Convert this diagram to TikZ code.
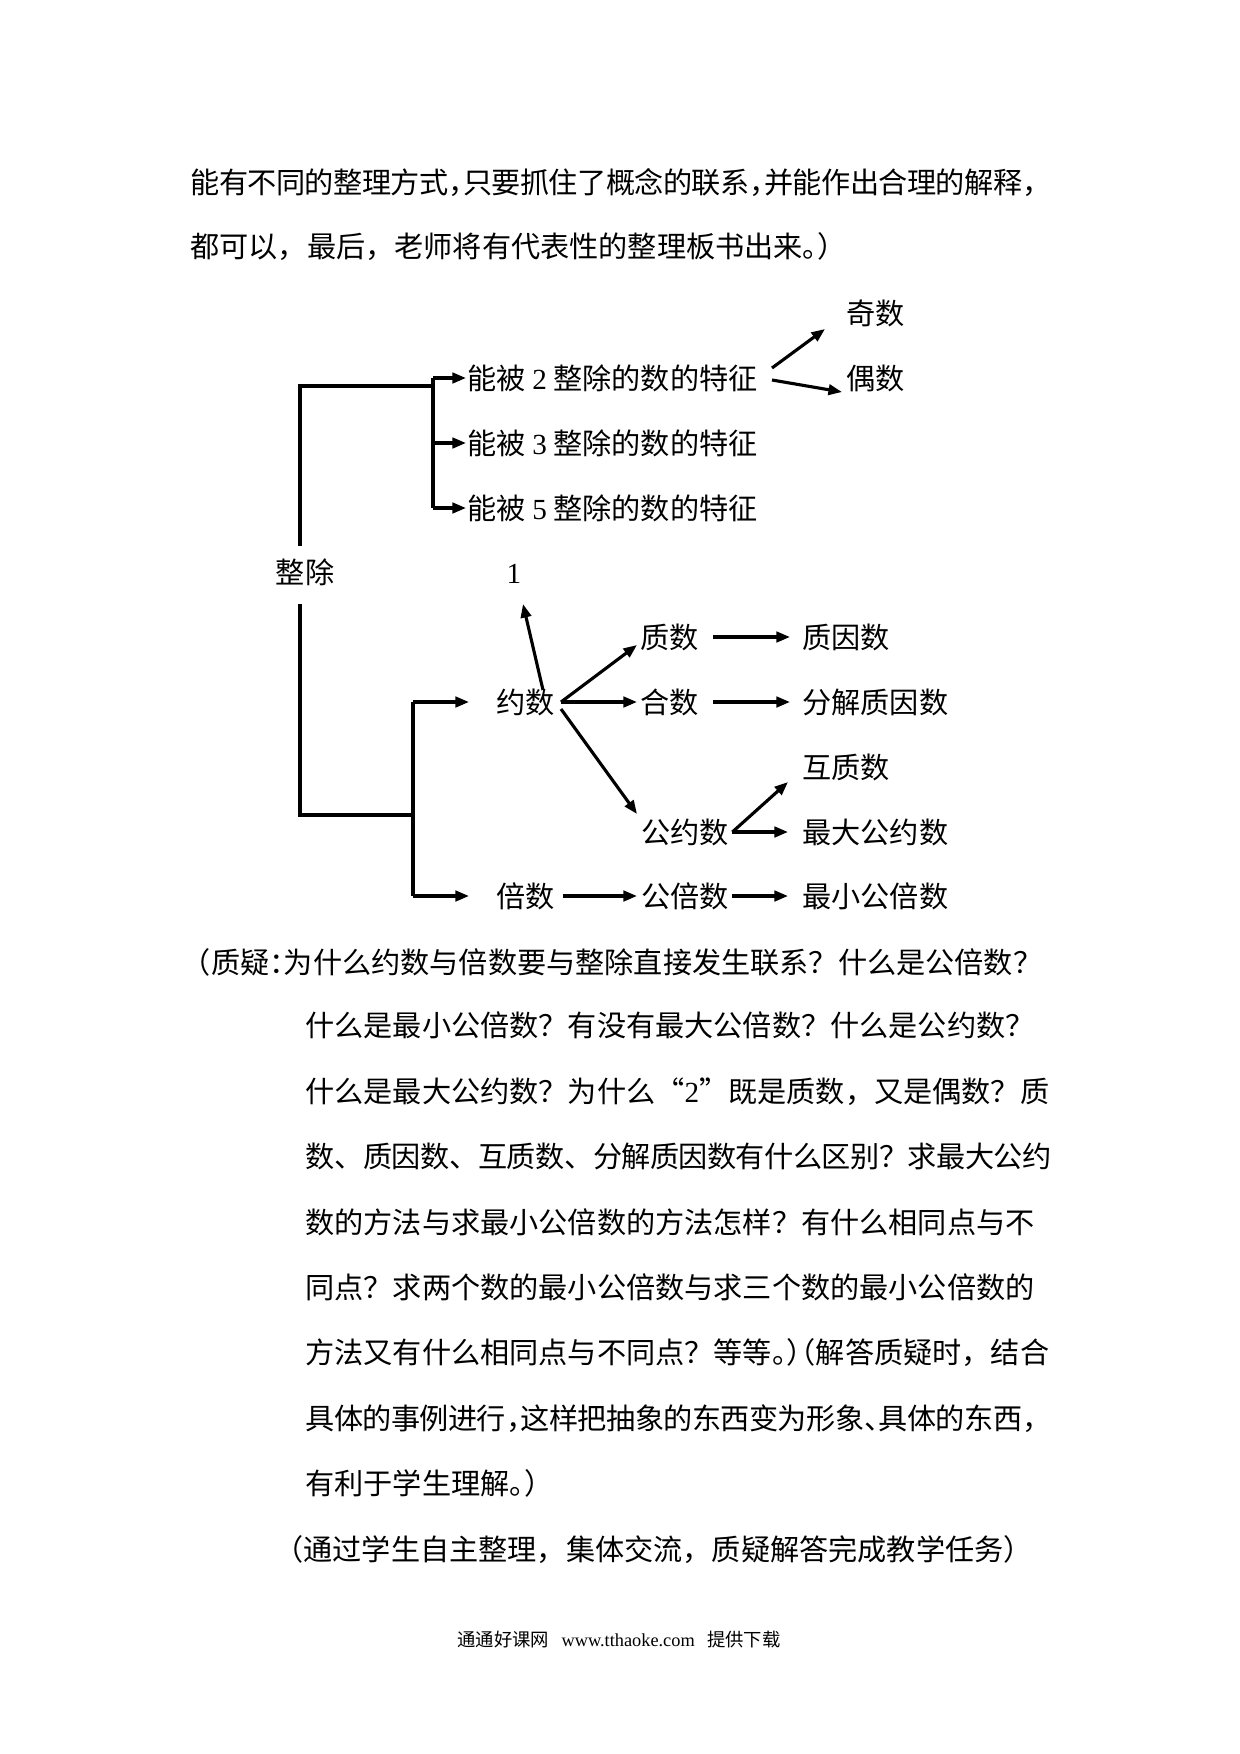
\documentclass[tikz,border=0pt]{standalone}
\usepackage{fontspec}
\setmainfont{Liberation Serif}
\newfontfamily\cjk{Noto Sans CJK SC}
\usetikzlibrary{arrows.meta}
\XeTeXlinebreaklocale "zh"
\XeTeXlinebreakskip=0pt plus 2pt minus 1pt
\newcommand\dg[1]{{\rmfamily #1}}
\newcommand\hcm{\makebox[0.5em][l]{，}}
\newcommand\hdn{\makebox[0.5em][l]{、}}
\newcommand\hpe{\makebox[0.5em][l]{。}}
\newcommand\hrp{\makebox[0.5em][l]{）}}
\newcommand\hlp{\makebox[0.5em][r]{（}}
\newcommand\hco{\makebox[0.5em][l]{：}}
\tikzset{
  tx/.style={font=\cjk\fontsize{14}{17}\selectfont, inner sep=0pt, anchor=west},
  ln/.style={line width=1.5pt},
  ar/.style={line width=1.5pt, -{Triangle[length=6.5pt,width=5pt]}},
  para/.style={font=\cjk\fontsize{14}{17}\selectfont, inner sep=0pt, anchor=base west},
  jus/.style={para, text width=#1, align=justify}
}
\begin{document}
\begin{tikzpicture}[x=0.48pt,y=-0.48pt]
\fill[white] (0,0) rectangle (1240,1754);
\useasboundingbox (0,0) rectangle (1240,1754);

% ---------- top paragraph ----------
\node[jus=413.3pt] (p1) at (190,193) {\noindent\parfillskip=0pt 能有不同的整理方式\hcm 只要抓住了概念的联系\hcm 并能作出合理的解释，};
\node[para] (p2) at (190,257) {都可以，最后，老师将有代表性的整理板书出来\hpe ）};

% ---------- diagram ----------
\node[tx] (qi) at (846,313) {奇数};
\node[tx] (ou) at (846,378) {偶数};
\node[tx] (n2) at (467,378) {能被 \dg{2} 整除的数的特征};
\node[tx] (n3) at (467,443) {能被 \dg{3} 整除的数的特征};
\node[tx] (n5) at (467,508) {能被 \dg{5} 整除的数的特征};
\node[tx,anchor=center] (zc) at (305,572) {整除};
\node[inner sep=0pt,font=\fontsize{14}{17}\selectfont] (one) at (514,574) {1};
\node[tx] (yue) at (496,702) {约数};
\node[tx] (bei) at (496,896) {倍数};
\node[tx] (zhi) at (640,637) {质数};
\node[tx] (he) at (640,702) {合数};
\node[tx] (gy) at (641,832) {公约数};
\node[tx] (gb) at (641,896) {公倍数};
\node[tx] (zyin) at (802,637) {质因数};
\node[tx] (fj) at (802,702) {分解质因数};
\node[tx] (hz) at (802,767) {互质数};
\node[tx] (zdgy) at (802,832) {最大公约数};
\node[tx] (zxgb) at (802,896) {最小公倍数};

\coordinate (za) at (300,546);
\coordinate (ja) at (300,386);
\coordinate (jb) at (433,386);
\coordinate (zb) at (300,604);
\coordinate (jc) at (300,815);
\coordinate (jd) at (413,815);

\draw[ln] (za) -- (ja) -- (jb);
\draw[ln] (jb |- n2.west) -- (jb |- n5.west);
\draw[ar] (jb |- n2.west) -- ([shift={(-1,0)}]n2.west);
\draw[ar] (jb |- n3.west) -- ([shift={(-1,0)}]n3.west);
\draw[ar] (jb |- n5.west) -- ([shift={(-1,0)}]n5.west);

\draw[ln] (zb) -- (jc) -- (jd);
\draw[ln] (jd |- yue.west) -- (jd |- bei.west);
\draw[ar] (jd |- yue.west) -- ([shift={(-27,0)}]yue.west);
\draw[ar] (jd |- bei.west) -- ([shift={(-27,0)}]bei.west);

\draw[ar] ([shift={(14,-10)}]n2.east) -- ([shift={(-21,16)}]qi.west);
\draw[ar] ([shift={(14,2)}]n2.east) -- ([shift={(-4,14)}]ou.west);

\draw[ar] ([shift={(47,-12)}]yue.west) -- ([shift={(9,30)}]one.center);
\draw[ar] ([shift={(65,0)}]yue.west) -- ([shift={(-3,8)}]zhi.west);
\draw[ar] ([shift={(65,0)}]yue.west) -- ([shift={(-3,0)}]he.west);
\draw[ar] ([shift={(65,7)}]yue.west) -- ([shift={(-4,-18)}]gy.west);

\draw[ar] ([shift={(14,0)}]zhi.east) -- ([shift={(-12,0)}]zyin.west);
\draw[ar] ([shift={(14,0)}]he.east) -- ([shift={(-12,0)}]fj.west);
\draw[ar] ([shift={(3,0)}]gy.east) -- ([shift={(-14,15)}]hz.west);
\draw[ar] ([shift={(3,0)}]gy.east) -- ([shift={(-14,0)}]zdgy.west);
\draw[ar] ([shift={(8,0)}]bei.east) -- ([shift={(-4,0)}]gb.west);
\draw[ar] ([shift={(3,0)}]gb.east) -- ([shift={(-14,0)}]zxgb.west);

% ---------- questions ----------
\node[jus=410.4pt] (qa) at (196,973) {\noindent\parfillskip=0pt \hlp 质疑\hco 为什么约数与倍数要与整除直接发生联系？什么是公倍数？};
\node[jus=358.1pt] (q1) at (305,1036) {\noindent\parfillskip=0pt 什么是最小公倍数？有没有最大公倍数？什么是公约数？};
\node[jus=358.1pt] (q2) at (305,1102) {\noindent\parfillskip=0pt 什么是最大公约数？为什么“\dg{2}”既是质数，又是偶数？质};
\node[jus=358.1pt] (q3) at (305,1167) {\noindent\parfillskip=0pt 数、质因数、互质数、分解质因数有什么区别？求最大公约};
\node[jus=358.1pt] (q4) at (305,1233) {\noindent\parfillskip=0pt 数的方法与求最小公倍数的方法怎样？有什么相同点与不};
\node[jus=358.1pt] (q5) at (305,1298) {\noindent\parfillskip=0pt 同点？求两个数的最小公倍数与求三个数的最小公倍数的};
\node[jus=358.1pt] (q6) at (305,1363) {\noindent\parfillskip=0pt 方法又有什么相同点与不同点？等等\hpe\hrp\hlp 解答质疑时，结合};
\node[jus=358.1pt] (q7) at (305,1429) {\noindent\parfillskip=0pt 具体的事例进行\hcm 这样把抽象的东西变为形象\hdn 具体的东西，};
\node[para] (q8) at (305,1494) {有利于学生理解\hpe ）};
\node[para] (last) at (274,1560) {（通过学生自主整理，集体交流，质疑解答完成教学任务）};

\node[inner sep=0pt,font=\fontsize{8.8}{10}\selectfont] (foot) at (619,1640) {{\cjk 通通好课网}\hspace{6pt}www.tthaoke.com\hspace{6pt}{\cjk 提供下载}};
\end{tikzpicture}
\end{document}
